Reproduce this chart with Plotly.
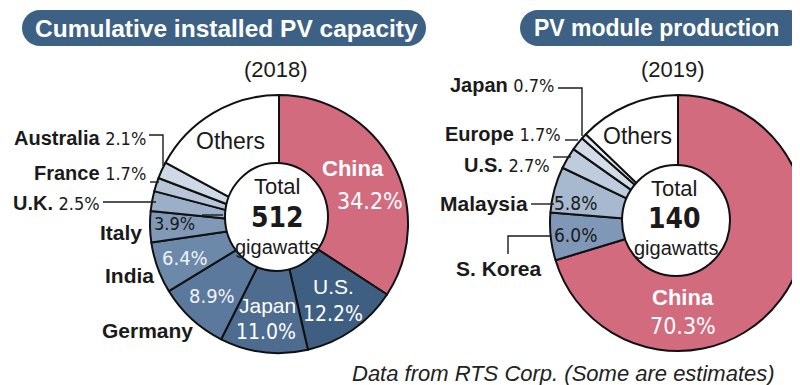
import plotly.graph_objects as go

# ---------------- data ----------------
left_labels = ["China", "U.S.", "Japan", "Germany", "India", "Italy", "U.K.", "France", "Australia", "Others"]
left_values = [34.2, 12.2, 11.0, 8.9, 6.4, 3.9, 2.5, 1.7, 2.1, 17.1]
left_total = 512

right_labels = ["China", "S. Korea", "Malaysia", "U.S.", "Europe", "Japan", "Others"]
right_values = [70.3, 6.0, 5.8, 2.7, 1.7, 0.7, 12.8]
right_total = 140

left_title = "Cumulative installed PV capacity"
right_title = "PV module production"
left_year = "(2018)"
right_year = "(2019)"
source_note = "Data from RTS Corp. (Some are estimates)"

# ---------------- styles ----------------
PINK = "#D36B7F"
left_colors = [PINK, "#3F5F82", "#4D6C90", "#5B799D", "#6D89AA", "#8199B7",
               "#9CAFC8", "#B6C5D8", "#CFD9E5", "#FFFFFF"]
right_colors = [PINK, "#7F98B8", "#A7B9CF", "#BFCCDD", "#D3DCE7", "#E4EAF0", "#FFFFFF"]
TITLE_BG = "#3D6185"
SANS = "Liberation Sans, Arial, Helvetica, sans-serif"
NARROW = "Liberation Sans Narrow, Arial Narrow, DejaVu Sans Condensed, sans-serif"
W, H = 800, 385

fig = go.Figure()

# invisible helper trace to create a pixel coordinate system
fig.add_trace(go.Scatter(x=[0, W], y=[0, H], mode="markers", marker=dict(opacity=0),
                         hoverinfo="skip", showlegend=False))


def dom(cx, cy, r):
    return dict(x=[(cx - r) / W, (cx + r) / W], y=[(H - cy - r) / H, (H - cy + r) / H])


fig.add_trace(go.Pie(values=left_values, labels=left_labels, sort=False, direction="clockwise",
                     rotation=0, hole=0.3, textinfo="none", hoverinfo="label+percent",
                     marker=dict(colors=left_colors, line=dict(color="#111111", width=2)),
                     domain=dom(271, 216, 129), showlegend=False))
fig.add_trace(go.Pie(values=right_values, labels=right_labels, sort=False, direction="clockwise",
                     rotation=0, hole=0.3, textinfo="none", hoverinfo="label+percent",
                     marker=dict(colors=right_colors, line=dict(color="#111111", width=2)),
                     domain=dom(670, 215, 128), showlegend=False))


def pill(x0, y0, x1, y1):
    r = (y1 - y0) / 2
    k = 0.5523 * r
    ym = (y0 + y1) / 2
    return (f"M {x0 + r},{y0} L {x1 - r},{y0} "
            f"C {x1 - r + k},{y0} {x1},{ym - k} {x1},{ym} "
            f"C {x1},{ym + k} {x1 - r + k},{y1} {x1 - r},{y1} "
            f"L {x0 + r},{y1} "
            f"C {x0 + r - k},{y1} {x0},{ym + k} {x0},{ym} "
            f"C {x0},{ym - k} {x0 + r - k},{y0} {x0 + r},{y0} Z")


shapes = []
# title boxes
shapes.append(dict(type="path", xref="x", yref="y", path=pill(14, 2, 418, 38),
                   fillcolor=TITLE_BG, line=dict(width=0)))
shapes.append(dict(type="path", xref="x", yref="y", path=pill(512, 2, 798, 38),
                   fillcolor=TITLE_BG, line=dict(width=0)))
# centre discs
shapes.append(dict(type="circle", xref="x", yref="y", x0=217, x1=320, y0=155, y1=263,
                   fillcolor="white", line=dict(color="#111111", width=2)))
shapes.append(dict(type="circle", xref="x", yref="y", x0=614, x1=722, y0=157, y1=268,
                   fillcolor="white", line=dict(color="#111111", width=2)))

# leader lines
leaders = [
    "M 141,127 L 155,127 L 155,158",
    "M 142,174 L 151,174",
    "M 95,194 L 148,194",
    "M 194,207 L 215,207",
    "M 550,80 L 574,80 L 574,128",
    "M 557,132 L 570,132",
    "M 545,149 L 563,149",
    "M 523,196 L 546,196",
    "M 543,228 L 500,228 L 500,246",
]
for p in leaders:
    shapes.append(dict(type="path", xref="x", yref="y", path=p,
                       line=dict(color="#1a1a1a", width=1.4)))

ann = []


def txt(x, y, text, size=22, color="#1a1a1a", family=SANS, xanchor="center", bold=False, italic=False):
    ann.append(dict(x=x, y=y, xref="x", yref="y", text=text, showarrow=False,
                    xanchor=xanchor, yanchor="middle",
                    font=dict(size=size, color=color, family=family,
                              weight="bold" if bold else "normal",
                              style="italic" if italic else "normal")))


def pct(v):
    return f"{v:.1f}%"


def lab(x, y, name, value):
    t = (f"{name} <span style='font-family:{NARROW}; font-weight:normal; font-size:18px'>"
         f"{pct(value)}</span>")
    txt(x, y, t, size=20, xanchor="right", bold=True)


# titles
txt(218, 20, left_title, size=24.5, color="white", bold=True)
txt(648, 20, right_title, size=23, color="white", bold=True)
txt(268, 61, left_year, size=22)
txt(665, 61, right_year, size=22)

# ---- left chart labels ----
L = dict(zip(left_labels, left_values))
lab(140, 130, "Australia", L["Australia"])
lab(140, 165, "France", L["France"])
lab(94, 195, "U.K.", L["U.K."])
txt(136, 224, "Italy", size=21, xanchor="right", bold=True)
txt(148, 267, "India", size=21, xanchor="right", bold=True)
txt(187, 322, "Germany", size=21, xanchor="right", bold=True)
txt(166, 215, pct(L["Italy"]), size=18, color="#1a1a1a", family=NARROW)
txt(177, 250, pct(L["India"]), size=20, color="#EEF2F7", family=NARROW)
txt(204, 288, pct(L["Germany"]), size=20, color="#EEF2F7", family=NARROW)
txt(259, 297, "Japan", size=21, color="white")
txt(258, 324, pct(L["Japan"]), size=21, color="white", family=NARROW)
txt(325, 278, "U.S.", size=21, color="white")
txt(325, 306, pct(L["U.S."]), size=21, color="white", family=NARROW)
txt(345, 160, "China", size=22, color="white", bold=True)
txt(362, 193, pct(L["China"]), size=23, color="white", family=NARROW)
txt(222, 133, "Others", size=23)
txt(269, 178, "Total", size=22)
txt(269, 209, f"{left_total}", size=28, family=NARROW, bold=True)
txt(269, 239, "gigawatts", size=20)

# ---- right chart labels ----
R = dict(zip(right_labels, right_values))
lab(549, 77, "Japan", R["Japan"])
lab(555, 126, "Europe", R["Europe"])
lab(544, 157, "U.S.", R["U.S."])
txt(522, 195, "Malaysia", size=21, xanchor="right", bold=True)
txt(491, 260, "S. Korea", size=21, bold=True)
txt(567, 195, pct(R["Malaysia"]), size=19, color="#1a1a1a", family=NARROW)
txt(567, 227, pct(R["S. Korea"]), size=19, color="#1a1a1a", family=NARROW)
txt(675, 289, "China", size=22, color="white", bold=True)
txt(675, 318, pct(R["China"]), size=23, color="white", family=NARROW)
txt(629, 128, "Others", size=23)
txt(666, 180, "Total", size=22)
txt(666, 210, f"{right_total}", size=28, family=NARROW, bold=True)
txt(668, 240, "gigawatts", size=20)

# source
txt(342, 365, source_note, size=22, xanchor="left", italic=True, color="#222222")

fig.update_layout(
    width=W, height=H, margin=dict(l=0, r=0, t=0, b=0),
    paper_bgcolor="white", plot_bgcolor="rgba(0,0,0,0)",
    xaxis=dict(range=[0, W], visible=False, fixedrange=True, domain=[0, 1]),
    yaxis=dict(range=[H, 0], visible=False, fixedrange=True, domain=[0, 1]),
    shapes=shapes, annotations=ann, font=dict(family=SANS),
)

fig.write_html("out.html")
